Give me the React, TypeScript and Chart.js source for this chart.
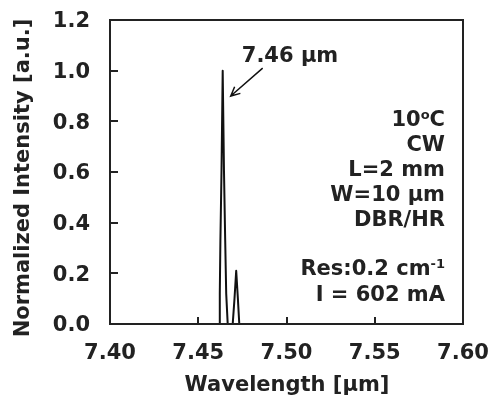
import React, { useEffect, useRef } from 'react';
import { Chart, registerables } from 'chart.js';
Chart.register(...registerables);

const wavelengths = [7.40, 7.46176, 7.46221, 7.46255, 7.46317, 7.46385, 7.46459, 7.46527, 7.46584, 7.46669, 7.46952, 7.47054, 7.47150, 7.47245, 7.47325, 7.60];
const intensities = [0, 0, 0.12, 0.33, 0.60, 1.0, 0.60, 0.33, 0.12, 0, 0, 0.10, 0.21, 0.10, 0, 0];
const xTicks = [7.40, 7.45, 7.50, 7.55, 7.60];
const yTicks = [0.0, 0.2, 0.4, 0.6, 0.8, 1.0, 1.2];
const peakLabel = '7.46 µm';
const peakArrowFrom = { x: 7.4865, y: 1.01 };
const peakArrowTo = { x: 7.4684, y: 0.90 };
const infoLines = ['10|o|C', 'CW', 'L=2 mm', 'W=10 µm', 'DBR/HR', '', 'Res:0.2 cm|-1|', 'I = 602 mA'];
const xTitle = 'Wavelength [µm]';
const yTitle = 'Normalized Intensity [a.u.]';

const FONT = '"DejaVu Sans", Verdana, sans-serif';
const INK = '#222222';
const FS = 21;

const overlay = {
  id: 'overlay',
  afterDraw(chart: any) {
    const { ctx, chartArea: a, scales } = chart;
    const xs = scales.x, ys = scales.y;
    ctx.save();
    ctx.strokeStyle = INK;
    ctx.lineWidth = 2;
    ctx.strokeRect(a.left, a.top, a.right - a.left, a.bottom - a.top);
    ctx.beginPath();
    xs.ticks.forEach((t: any) => {
      const px = Math.round(xs.getPixelForValue(t.value));
      ctx.moveTo(px, a.bottom);
      ctx.lineTo(px, a.bottom - 7);
    });
    ys.ticks.forEach((t: any) => {
      const py = Math.round(ys.getPixelForValue(t.value));
      ctx.moveTo(a.left, py);
      ctx.lineTo(a.left + 8, py);
    });
    ctx.stroke();

    // arrow
    const x1 = xs.getPixelForValue(peakArrowFrom.x), y1 = ys.getPixelForValue(peakArrowFrom.y);
    const x2 = xs.getPixelForValue(peakArrowTo.x), y2 = ys.getPixelForValue(peakArrowTo.y);
    ctx.lineWidth = 1.5;
    ctx.strokeStyle = '#111';
    ctx.beginPath();
    ctx.moveTo(x1, y1);
    ctx.lineTo(x2, y2);
    const ang = Math.atan2(y2 - y1, x2 - x1);
    const hl = 10;
    ctx.moveTo(x2 - hl * Math.cos(ang - 0.45), y2 - hl * Math.sin(ang - 0.45));
    ctx.lineTo(x2, y2);
    ctx.lineTo(x2 - hl * Math.cos(ang + 0.45), y2 - hl * Math.sin(ang + 0.45));
    ctx.stroke();

    ctx.fillStyle = INK;
    ctx.font = `bold ${FS}px ${FONT}`;
    ctx.textBaseline = 'middle';
    ctx.textAlign = 'center';
    ctx.fillText(peakLabel, 290, 57);

    // info block, right aligned
    const right = 445;
    const lineY = [121, 146, 171, 196, 221, 245, 270, 296];
    infoLines.forEach((line, i) => {
      if (!line) return;
      const parts = line.split('|');
      const fonts = parts.map((_, k) => (k % 2 === 1 ? `bold 13px ${FONT}` : `bold ${FS}px ${FONT}`));
      const widths = parts.map((p, k) => { ctx.font = fonts[k]; return ctx.measureText(p).width; });
      let x = right - widths.reduce((s, w) => s + w, 0);
      ctx.textAlign = 'left';
      parts.forEach((p, k) => {
        ctx.font = fonts[k];
        ctx.fillText(p, x, k % 2 === 1 ? lineY[i] - 5 : lineY[i]);
        x += widths[k];
      });
    });

    // axis titles
    ctx.font = `bold ${FS}px ${FONT}`;
    ctx.textAlign = 'center';
    ctx.fillText(xTitle, 287, 386);
    ctx.translate(24, 178);
    ctx.rotate(-Math.PI / 2);
    ctx.fillText(yTitle, 0, 0);
    ctx.restore();
  },
};

export default function App() {
  const ref = useRef<HTMLCanvasElement>(null);
  useEffect(() => {
    document.body.style.margin = '0';
    const chart = new Chart(ref.current!, {
      type: 'scatter',
      data: {
        datasets: [{
          data: wavelengths.map((w, i) => ({ x: w, y: intensities[i] })),
          showLine: true,
          borderColor: '#111',
          borderWidth: 2,
          borderJoinStyle: 'round',
          borderCapStyle: 'round',
          pointRadius: 0,
          tension: 0,
        }],
      },
      options: {
        animation: false,
        responsive: false,
        layout: { padding: { left: 0, top: 20, right: 28, bottom: 0 } },
        plugins: { legend: { display: false }, tooltip: { enabled: false } },
        scales: {
          x: {
            type: 'linear', min: 7.40, max: 7.60,
            afterBuildTicks: (s: any) => { s.ticks = xTicks.map(v => ({ value: v })); },
            afterFit: (s: any) => { s.height = 72; s.paddingLeft = 0; s.paddingRight = 0; },
            border: { display: false },
            grid: { display: false, drawTicks: false },
            ticks: { color: INK, maxRotation: 0, font: { family: FONT, size: FS, weight: 'bold' }, padding: 17, callback: (v: any) => Number(v).toFixed(2) },
          },
          y: {
            min: 0, max: 1.2,
            afterBuildTicks: (s: any) => { s.ticks = yTicks.map(v => ({ value: v })); },
            afterFit: (s: any) => { s.width = 110; s.paddingTop = 0; s.paddingBottom = 0; },
            border: { display: false },
            grid: { display: false, drawTicks: false },
            ticks: { color: INK, labelOffset: 2, font: { family: FONT, size: FS, weight: 'bold' }, padding: 20, callback: (v: any) => Number(v).toFixed(1) },
          },
        },
      } as any,
      plugins: [overlay],
    });
    return () => chart.destroy();
  }, []);
  return (
    <div style={{ width: 491, height: 396 }}>
      <canvas ref={ref} width={491} height={396} />
    </div>
  );
}
